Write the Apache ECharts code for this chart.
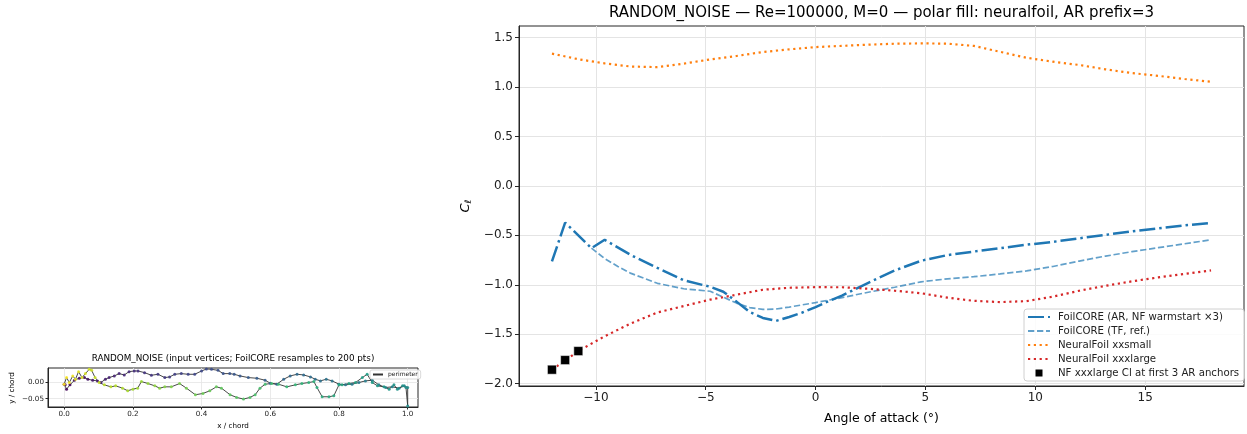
<!DOCTYPE html>
<html><head><meta charset="utf-8">
<script src="https://cdn.jsdelivr.net/npm/echarts@6/dist/echarts.min.js"></script>
<style>html,body{margin:0;padding:0;background:#fff}#c{width:1247px;height:434px}</style>
</head><body><div id="c"></div>
<script>
// ---------- main polar plot data ----------
const aoaAR = [-12, -11.4, -10.8, -10.2, -9.6, -8.4, -7.2, -6.0, -4.8, -4.2, -3.6, -3.0, -2.4, -1.8, -1.2, -0.6, 0, 0.6, 1.2, 2.4, 3.6, 4.8, 6.0, 7.2, 8.4, 9.6, 10.8, 12.0, 13.2, 14.4, 15.6, 16.8, 18.0];
const clAR  = [-0.764, -0.371, -0.50, -0.63, -0.545, -0.70, -0.83, -0.955, -1.02, -1.07, -1.17, -1.275, -1.335, -1.365, -1.325, -1.28, -1.225, -1.165, -1.11, -0.98, -0.855, -0.757, -0.70, -0.664, -0.63, -0.595, -0.566, -0.53, -0.495, -0.46, -0.43, -0.40, -0.374];

const aoaTF = [-10.2, -9.6, -9.0, -8.4, -7.2, -6.0, -4.8, -4.2, -3.6, -3.0, -2.4, -1.8, -1.2, 0, 1.2, 2.4, 3.6, 4.8, 6.0, 7.2, 8.4, 9.6, 10.8, 12.0, 13.2, 14.4, 15.6, 16.8, 18.0];
const clTF  = [-0.63, -0.735, -0.815, -0.885, -0.985, -1.04, -1.065, -1.125, -1.185, -1.23, -1.249, -1.245, -1.225, -1.18, -1.13, -1.075, -1.025, -0.97, -0.94, -0.918, -0.89, -0.86, -0.815, -0.76, -0.71, -0.665, -0.625, -0.585, -0.545];

const aoaNF = [-12, -10.8, -9.6, -8.4, -7.2, -6.0, -4.8, -3.6, -2.4, -1.2, 0, 1.2, 2.4, 3.6, 4.8, 6.0, 7.2, 8.4, 9.6, 10.8, 12.0, 13.2, 14.4, 15.6, 16.8, 18.0];
const clXXSmall  = [1.337, 1.28, 1.238, 1.206, 1.200, 1.236, 1.278, 1.313, 1.353, 1.38, 1.403, 1.415, 1.427, 1.437, 1.44, 1.438, 1.415, 1.355, 1.295, 1.255, 1.222, 1.178, 1.14, 1.112, 1.08, 1.052];
const clXXXLarge = [-1.858, -1.67, -1.52, -1.39, -1.28, -1.215, -1.15, -1.10, -1.05, -1.03, -1.024, -1.025, -1.04, -1.06, -1.085, -1.13, -1.162, -1.175, -1.165, -1.12, -1.06, -1.01, -0.965, -0.925, -0.89, -0.855];

const anchorAoa = [-12, -11.4, -10.8];
const anchorCl  = [-1.858, -1.761, -1.67];

const xTicksMain = [-10, -5, 0, 5, 10, 15];
const yTicksMain = [-2.0, -1.5, -1.0, -0.5, 0.0, 0.5, 1.0, 1.5];

// ---------- airfoil (input vertices) data ----------
const upperX = [0.0, 0.003, 0.007, 0.017, 0.03, 0.044, 0.059, 0.069, 0.083, 0.097, 0.107, 0.12, 0.131, 0.146, 0.16, 0.175, 0.189, 0.204, 0.215, 0.234, 0.254, 0.273, 0.293, 0.307, 0.322, 0.341, 0.361, 0.38, 0.4, 0.414, 0.429, 0.448, 0.463, 0.482, 0.495, 0.512, 0.536, 0.561, 0.585, 0.6, 0.619, 0.639, 0.658, 0.678, 0.697, 0.717, 0.731, 0.746, 0.763, 0.78, 0.8, 0.819, 0.838, 0.858, 0.877, 0.897, 0.916, 0.936, 0.955, 0.975, 0.99, 1.0, 1.0];
const upperY = [-0.006, -0.008, -0.021, -0.008, 0.006, 0.012, 0.014, 0.009, 0.006, 0.004, -0.001, 0.009, 0.014, 0.019, 0.026, 0.022, 0.032, 0.034, 0.034, 0.029, 0.021, 0.024, 0.014, 0.016, 0.024, 0.026, 0.024, 0.024, 0.034, 0.04, 0.039, 0.036, 0.026, 0.026, 0.024, 0.019, 0.014, 0.012, 0.006, -0.003, -0.006, 0.009, 0.019, 0.024, 0.022, 0.016, 0.009, 0.004, 0.009, 0.004, -0.006, -0.008, -0.006, -0.001, 0.004, 0.006, -0.008, -0.016, -0.014, -0.018, -0.011, -0.016, -0.072];
const lowerX = [0.995, 0.985, 0.97, 0.96, 0.946, 0.931, 0.912, 0.897, 0.882, 0.868, 0.848, 0.829, 0.809, 0.8, 0.785, 0.771, 0.751, 0.736, 0.727, 0.712, 0.692, 0.673, 0.648, 0.624, 0.604, 0.585, 0.57, 0.556, 0.541, 0.522, 0.502, 0.483, 0.458, 0.443, 0.424, 0.404, 0.382, 0.356, 0.336, 0.312, 0.293, 0.278, 0.264, 0.244, 0.225, 0.214, 0.2, 0.185, 0.17, 0.15, 0.136, 0.117, 0.102, 0.09, 0.08, 0.073, 0.062, 0.052, 0.042, 0.033, 0.025, 0.015, 0.007, 0.0];
const lowerY = [-0.016, -0.011, -0.021, -0.008, -0.021, -0.014, -0.011, -0.001, 0.024, 0.014, -0.001, -0.004, -0.008, -0.008, -0.041, -0.044, -0.044, -0.016, 0.002, -0.001, -0.004, -0.008, -0.014, -0.006, -0.004, -0.006, -0.018, -0.038, -0.046, -0.051, -0.046, -0.038, -0.018, -0.014, -0.026, -0.034, -0.038, -0.018, -0.004, -0.014, -0.014, -0.018, -0.011, -0.004, 0.002, -0.018, -0.021, -0.026, -0.018, -0.011, -0.014, -0.008, -0.001, 0.014, 0.036, 0.039, 0.026, 0.014, 0.032, 0.009, 0.019, -0.001, 0.014, -0.006];
const xTicksFoil = [0.0, 0.2, 0.4, 0.6, 0.8, 1.0];
const yTicksFoil = [-0.05, 0.0];

// ---------- build ----------
const zip = (a, b) => a.map((v, i) => [v, b[i]]);
const perimX = upperX.concat(lowerX);
const perimY = upperY.concat(lowerY);
const perimeter = zip(perimX, perimY);
const vertices = perimX.map((x, i) => [x, perimY[i], i]);
const minus = s => s.replace('-', '\u2212');
const FONT = 'DejaVu Sans';
const AX = '#262626';
const GRIDC = '#e4e4e4';
const viridis = ['#440154','#482878','#3e4989','#31688e','#26828e','#1f9e89','#35b779','#6ece58','#b5de2b','#fde725'];
const noSym = {opacity: 0};

const chart = echarts.init(document.getElementById('c'), null, {renderer: 'canvas'});
chart.setOption({
  animation: false,
  backgroundColor: '#fff',
  textStyle: {fontFamily: FONT},
  grid: [
    {left: 519, top: 26, width: 725, height: 360, show: true, borderColor: AX, borderWidth: 1, backgroundColor: 'transparent'},
    {left: 48, top: 368, width: 370, height: 39, show: true, borderColor: AX, borderWidth: 1, backgroundColor: 'transparent'}
  ],
  xAxis: [
    {gridIndex: 0, type: 'value', min: -13.5, max: 19.5, splitNumber: 6,
     axisLine: {show: true, onZero: false, lineStyle: {color: AX, width: 1}},
     axisTick: {show: true, length: 4, lineStyle: {color: AX}, customValues: xTicksMain},
     axisLabel: {customValues: xTicksMain, fontSize: 12, color: '#222', margin: 6, formatter: v => minus(String(v))},
     splitLine: {show: true, lineStyle: {color: GRIDC, width: 1}}},
    {gridIndex: 1, type: 'value', min: -0.047, max: 1.03, splitNumber: 5,
     axisLine: {show: true, onZero: false, lineStyle: {color: AX, width: 1}},
     axisTick: {show: true, length: 2.5, lineStyle: {color: AX}, customValues: xTicksFoil},
     axisLabel: {customValues: xTicksFoil, fontSize: 7.2, color: '#222', margin: 4, formatter: v => minus(v.toFixed(1))},
     splitLine: {show: true, lineStyle: {color: GRIDC, width: 0.8}}}
  ],
  yAxis: [
    {gridIndex: 0, type: 'value', min: -2.023, max: 1.616, splitNumber: 7,
     axisLine: {show: true, onZero: false, lineStyle: {color: AX, width: 1}},
     axisTick: {show: true, length: 4, lineStyle: {color: AX}, customValues: yTicksMain},
     axisLabel: {customValues: yTicksMain, fontSize: 12, color: '#222', margin: 6, formatter: v => minus(v.toFixed(1))},
     splitLine: {show: true, lineStyle: {color: GRIDC, width: 1}}},
    {gridIndex: 1, type: 'value', min: -0.075, max: 0.043, splitNumber: 2,
     axisLine: {show: true, onZero: false, lineStyle: {color: AX, width: 1}},
     axisTick: {show: true, length: 2.5, lineStyle: {color: AX}, customValues: yTicksFoil},
     axisLabel: {customValues: yTicksFoil, fontSize: 7.2, color: '#222', margin: 4, formatter: v => minus(v.toFixed(2))},
     splitLine: {show: true, lineStyle: {color: GRIDC, width: 0.8}}}
  ],
  legend: [
    {data: [
       {name: 'FoilCORE (AR, NF warmstart \u00d73)', itemStyle: noSym},
       {name: 'FoilCORE (TF, ref.)', itemStyle: noSym},
       {name: 'NeuralFoil xxsmall', itemStyle: noSym},
       {name: 'NeuralFoil xxxlarge', itemStyle: noSym},
       {name: 'NF xxxlarge Cl at first 3 AR anchors', icon: 'path://M0,0L10,0L10,10L0,10Z'}],
     orient: 'vertical', left: 1024, top: 309, itemWidth: 22, itemHeight: 9, itemGap: 0, symbolKeepAspect: true,
     padding: [1, 5, 1, 3], backgroundColor: 'rgba(255,255,255,0.85)', borderColor: '#d0d0d0', borderWidth: 1, borderRadius: 3,
     textStyle: {fontSize: 10.2, color: '#222', lineHeight: 14, padding: [0, 0, 0, 3]}},
    {data: [{name: 'perimeter', itemStyle: noSym}], orient: 'vertical', left: 370, top: 370, itemWidth: 10, itemHeight: 5, itemGap: 0,
     padding: [1, 3, 1, 2], backgroundColor: 'rgba(255,255,255,0.85)', borderColor: '#d0d0d0', borderWidth: 0.8, borderRadius: 2,
     textStyle: {fontSize: 6, color: '#222', lineHeight: 7}}
  ],
  visualMap: {type: 'continuous', show: false, seriesIndex: 6, dimension: 2, min: 0, max: vertices.length - 1, inRange: {color: viridis}},
  series: [
    {name: 'FoilCORE (AR, NF warmstart \u00d73)', type: 'line', xAxisIndex: 0, yAxisIndex: 0, data: zip(aoaAR, clAR), symbol: 'none', z: 2,
     itemStyle: {color: '#1f77b4'}, lineStyle: {color: '#1f77b4', width: 2.5, type: [16, 4, 2.5, 4]}},
    {name: 'FoilCORE (TF, ref.)', type: 'line', xAxisIndex: 0, yAxisIndex: 0, data: zip(aoaTF, clTF), symbol: 'none', z: 2,
     itemStyle: {color: '#1f77b4'}, lineStyle: {color: '#1f77b4', opacity: 0.7, width: 1.7, type: [6.3, 2.7]}},
    {name: 'NeuralFoil xxsmall', type: 'line', xAxisIndex: 0, yAxisIndex: 0, data: zip(aoaNF, clXXSmall), symbol: 'none', z: 2,
     itemStyle: {color: '#ff7f0e'}, lineStyle: {color: '#ff7f0e', width: 2.2, type: [2.2, 3.6]}},
    {name: 'NeuralFoil xxxlarge', type: 'line', xAxisIndex: 0, yAxisIndex: 0, data: zip(aoaNF, clXXXLarge), symbol: 'none', z: 2,
     itemStyle: {color: '#d62728'}, lineStyle: {color: '#d62728', width: 2.2, type: [2.2, 3.6]}},
    {name: 'NF xxxlarge Cl at first 3 AR anchors', type: 'scatter', xAxisIndex: 0, yAxisIndex: 0, data: zip(anchorAoa, anchorCl),
     symbol: 'rect', symbolSize: 9, z: 5, itemStyle: {color: '#000', opacity: 1, borderColor: '#fff', borderWidth: 0.5}},
    {name: 'perimeter', type: 'line', xAxisIndex: 1, yAxisIndex: 1, data: perimeter, symbol: 'none', z: 2,
     itemStyle: {color: '#333'}, lineStyle: {color: '#333', width: 0.9}},
    {name: 'vertices', type: 'scatter', xAxisIndex: 1, yAxisIndex: 1, data: vertices, symbolSize: 3, z: 3, itemStyle: {opacity: 0.9}}
  ],
  graphic: [
    {type: 'text', x: 881.5, y: 13, style: {text: 'RANDOM_NOISE \u2014 Re=100000, M=0 \u2014 polar fill: neuralfoil, AR prefix=3', font: '15px "DejaVu Sans"', fill: '#000', align: 'center', verticalAlign: 'middle'}},
    {type: 'text', x: 881.5, y: 419, style: {text: 'Angle of attack (\u00b0)', font: '12.5px "DejaVu Sans"', fill: '#000', align: 'center', verticalAlign: 'middle'}},
    {type: 'text', x: 466, y: 206, rotation: Math.PI / 2, style: {text: '{c|C}{s|\u2113}', fill: '#000', align: 'center', verticalAlign: 'middle',
      rich: {c: {fontFamily: FONT, fontStyle: 'italic', fontSize: 13, fill: '#000'}, s: {fontFamily: FONT, fontStyle: 'italic', fontSize: 9, fill: '#000', padding: [6, 0, 0, 0]}}}},
    {type: 'text', x: 233, y: 359, style: {text: 'RANDOM_NOISE (input vertices; FoilCORE resamples to 200 pts)', font: '8.8px "DejaVu Sans"', fill: '#000', align: 'center', verticalAlign: 'middle'}},
    {type: 'text', x: 233, y: 426, style: {text: 'x / chord', font: '7.2px "DejaVu Sans"', fill: '#000', align: 'center', verticalAlign: 'middle'}},
    {type: 'text', x: 12, y: 388, rotation: Math.PI / 2, style: {text: 'y / chord', font: '7.2px "DejaVu Sans"', fill: '#000', align: 'center', verticalAlign: 'middle'}}
  ]
});
</script></body></html>
